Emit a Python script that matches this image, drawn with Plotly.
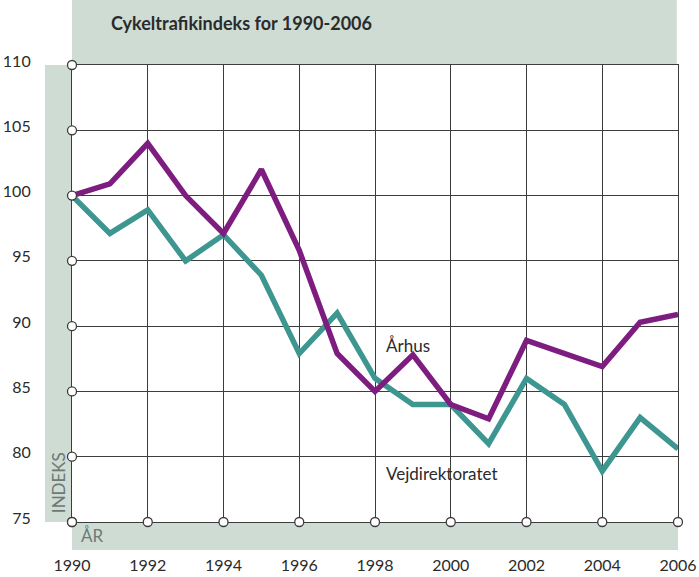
import plotly.graph_objects as go

years = list(range(1990, 2007))
aarhus = [100, 100.9, 104, 100, 97.1, 102, 95.8, 87.9, 85, 87.8, 84, 82.9, 88.9, 87.9, 86.9, 90.3, 90.9]
vejdir = [100, 97.1, 98.9, 95, 97, 93.9, 87.9, 91, 86, 84, 84, 81, 86, 84, 78.9, 83, 80.6]
x_ticks = [1990, 1992, 1994, 1996, 1998, 2000, 2002, 2004, 2006]
y_ticks = [75, 80, 85, 90, 95, 100, 105, 110]

title_text = "Cykeltrafikindeks for 1990-2006"
band = "#cedcd4"
grid = "#3c3c3c"
purple = "#7e1d80"
teal = "#3d9690"
font_fam = "Lato, 'Open Sans', sans-serif"

fig = go.Figure()
fig.add_trace(go.Scatter(x=years, y=vejdir, mode="lines",
                         line=dict(color=teal, width=5.5), cliponaxis=False, showlegend=False))
fig.add_trace(go.Scatter(x=years, y=aarhus, mode="lines",
                         line=dict(color=purple, width=5.5), cliponaxis=False, showlegend=False))
# axis markers
fig.add_trace(go.Scatter(x=[1990] * len(y_ticks), y=y_ticks, mode="markers",
                         marker=dict(size=9, color="white", line=dict(color=grid, width=1.3)),
                         cliponaxis=False, showlegend=False))
fig.add_trace(go.Scatter(x=x_ticks, y=[75] * len(x_ticks), mode="markers",
                         marker=dict(size=9, color="white", line=dict(color=grid, width=1.3)),
                         cliponaxis=False, showlegend=False))

shapes = [
    dict(type="rect", xref="paper", yref="paper", x0=0, x1=0.998, y0=1, y1=1.2,
         fillcolor=band, line=dict(width=0), layer="below"),
    dict(type="rect", xref="paper", yref="paper", x0=-0.0446, x1=0, y0=0, y1=1,
         fillcolor=band, line=dict(width=0), layer="below"),
    dict(type="rect", xref="paper", yref="paper", x0=0, x1=1, y0=-0.061, y1=0,
         fillcolor=band, line=dict(width=0), layer="below"),
]

annotations = [
    dict(text="<b>" + title_text + "</b>", xref="paper", yref="paper", x=0.061, y=1.092,
         xanchor="left", yanchor="middle", showarrow=False,
         font=dict(family=font_fam, size=18, color="#2b2b2b")),
    dict(text="Århus", x=1998.25, y=88.55, xanchor="left", yanchor="middle", showarrow=False,
         font=dict(family=font_fam, size=17, color="#2b2b2b")),
    dict(text="Vejdirektoratet", x=1998.25, y=78.75, xanchor="left", yanchor="middle", showarrow=False,
         font=dict(family=font_fam, size=17, color="#2b2b2b")),
    dict(text="INDEKS", xref="paper", yref="paper", x=-0.0223, y=0.015, xanchor="center",
         yanchor="bottom", textangle=-90, showarrow=False,
         font=dict(family=font_fam, size=17, color="#6c7975")),
    dict(text="ÅR", xref="paper", yref="paper", x=0.012, y=-0.003, xanchor="left",
         yanchor="top", showarrow=False,
         font=dict(family=font_fam, size=17, color="#6c7975")),
]

fig.update_layout(
    width=699, height=577,
    margin=dict(l=72, r=21, t=65, b=55, autoexpand=False),
    paper_bgcolor="white", plot_bgcolor="white",
    shapes=shapes, annotations=annotations,
    showlegend=False,
    xaxis=dict(range=[1990, 2006], tickvals=x_ticks, ticktext=[str(v) for v in x_ticks],
               showgrid=True, gridcolor=grid, gridwidth=1.2, zeroline=False,
               showline=True, linecolor=grid, linewidth=1.2, mirror=True,
               ticks="", ticklabelstandoff=29, automargin=False, layer="below traces",
               tickfont=dict(family=font_fam, size=16, color="#2b2b2b")),
    yaxis=dict(range=[75, 110], tickvals=y_ticks, ticktext=[str(v) for v in y_ticks],
               showgrid=True, gridcolor=grid, gridwidth=1.2, zeroline=False,
               showline=True, linecolor=grid, linewidth=1.2, mirror=True,
               ticks="", ticklabelstandoff=37, ticklabelshift=-4, automargin=False,
               layer="below traces",
               tickfont=dict(family=font_fam, size=16, color="#2b2b2b")),
)

fig.write_html("out.html", config={"displayModeBar": False},
               post_script="document.body.style.margin='0';document.body.style.overflow='hidden';")
